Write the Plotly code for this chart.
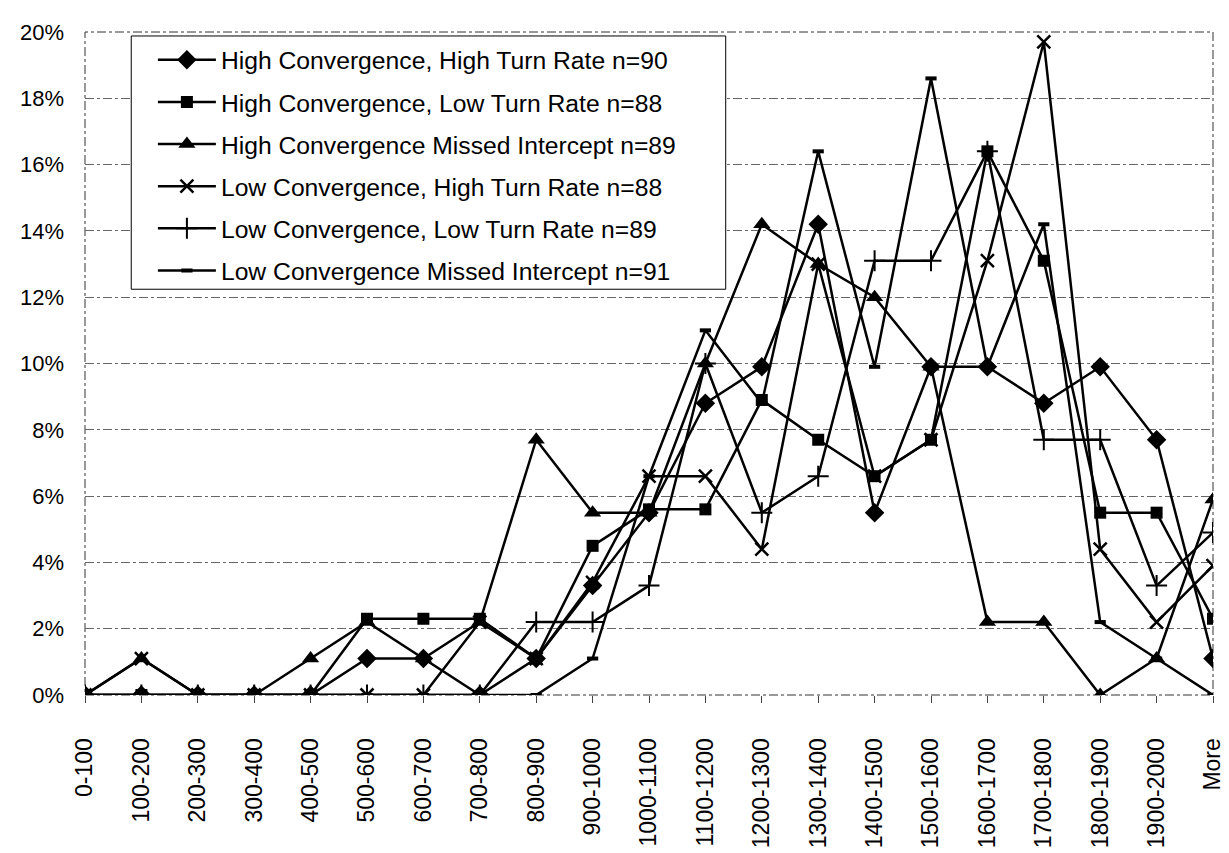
import plotly.graph_objects as go

categories = ["0-100", "100-200", "200-300", "300-400", "400-500", "500-600",
              "600-700", "700-800", "800-900", "900-1000", "1000-1100",
              "1100-1200", "1200-1300", "1300-1400", "1400-1500", "1500-1600",
              "1600-1700", "1700-1800", "1800-1900", "1900-2000", "More"]

hc_high_turn = [0, 0, 0, 0, 0, 1.1, 1.1, 0, 1.1, 3.3, 5.5, 8.8, 9.9, 14.2, 5.5, 9.9, 9.9, 8.8, 9.9, 7.7, 1.1]
hc_low_turn = [0, 0, 0, 0, 0, 2.3, 2.3, 2.3, 1.1, 4.5, 5.6, 5.6, 8.9, 7.7, 6.6, 7.7, 16.4, 13.1, 5.5, 5.5, 2.3]
hc_missed = [0, 1.1, 0, 0, 1.1, 2.2, 1.1, 2.2, 7.7, 5.5, 5.5, 10.0, 14.2, 13.0, 12.0, 9.9, 2.2, 2.2, 0, 1.1, 5.9]
lc_high_turn = [0, 1.1, 0, 0, 0, 0, 0, 2.2, 1.1, 3.4, 6.6, 6.6, 4.4, 13.0, 6.6, 7.7, 13.1, 19.7, 4.4, 2.2, 3.9]
lc_low_turn = [0, 0, 0, 0, 0, 0, 0, 0, 2.2, 2.2, 3.3, 10.0, 5.5, 6.6, 13.1, 13.1, 16.4, 7.7, 7.7, 3.3, 4.9]
lc_missed = [0, 0, 0, 0, 0, 0, 0, 0, 0, 1.1, 6.6, 11.0, 8.8, 16.4, 9.9, 18.6, 9.9, 14.2, 2.2, 1.1, 0]

series_names = [
    "High Convergence, High Turn Rate n=90",
    "High Convergence, Low Turn Rate n=88",
    "High Convergence Missed Intercept n=89",
    "Low Convergence, High Turn Rate n=88",
    "Low Convergence, Low Turn Rate n=89",
    "Low Convergence Missed Intercept n=91",
]
series_values = [hc_high_turn, hc_low_turn, hc_missed, lc_high_turn, lc_low_turn, lc_missed]
y_ticks = [0, 2, 4, 6, 8, 10, 12, 14, 16, 18, 20]
y_tick_labels = ["0%", "2%", "4%", "6%", "8%", "10%", "12%", "14%", "16%", "18%", "20%"]

marker_styles = [
    dict(symbol="diamond", size=15, color="black"),
    dict(symbol="square", size=12, color="black"),
    dict(symbol="triangle-up", size=15, color="black"),
    dict(symbol="x-thin-open", size=13, color="black", line=dict(width=2.5, color="black")),
    dict(symbol="cross-thin-open", size=15, color="black", line=dict(width=2, color="black")),
    dict(symbol="line-ew-open", size=8, color="black", line=dict(width=4, color="black")),
]

FONT = "Liberation Sans, Arial, sans-serif"

fig = go.Figure()
for i, (name, vals) in enumerate(zip(series_names, series_values)):
    fig.add_trace(go.Scatter(
        x=categories, y=vals, name=name, mode="lines+markers",
        line=dict(color="black", width=2.5),
        marker=marker_styles[i],
        legendgroup=f"g{i}",
    ))

# plot area in pixels: x 77..1207, y 14..687
fig.update_layout(
    width=1229, height=853,
    margin=dict(l=77, r=22, t=14, b=166),
    paper_bgcolor="white", plot_bgcolor="white",
    font=dict(family=FONT, size=22, color="black"),
    showlegend=True,
    legend=dict(
        x=0.0602, y=0.992, xanchor="left", yanchor="top",
        bgcolor="rgba(0,0,0,0)", borderwidth=0,
        font=dict(family=FONT, size=24.7, color="black"),
        tracegroupgap=7, itemwidth=58,
    ),
    xaxis=dict(
        type="category", range=[0, 20],
        tickangle=-90, tickfont=dict(family=FONT, size=23),
        ticks="outside", ticklen=7, tickcolor="#444",
        showgrid=False, zeroline=False, showline=False,
        ticklabelstandoff=26,
    ),
    yaxis=dict(
        range=[0, 20], tickvals=y_ticks, ticktext=y_tick_labels,
        tickfont=dict(family=FONT, size=22),
        showgrid=True, gridcolor="#666", griddash="dashdot", gridwidth=1,
        zeroline=False, showline=False, ticks="",
        ticklabelstandoff=20,
    ),
    shapes=[
        dict(type="rect", xref="paper", yref="paper", x0=0, y0=0, x1=1, y1=1,
             line=dict(color="#333", width=1, dash="dashdot"), layer="below"),
        dict(type="rect", xref="paper", yref="paper", x0=0.0410, y0=0.612, x1=0.568, y1=0.994,
             line=dict(color="black", width=1), fillcolor="white", layer="above"),
    ],
)

fig.write_html("out.html")
